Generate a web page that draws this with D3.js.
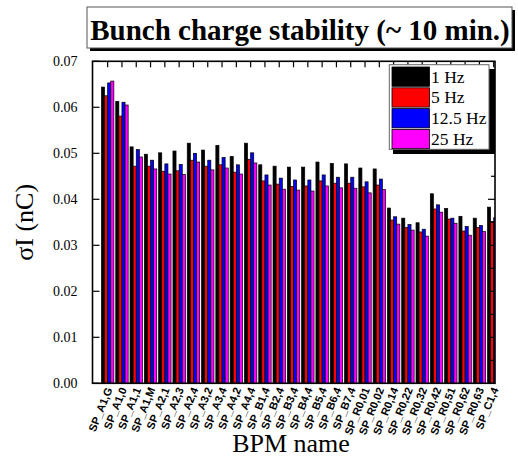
<!DOCTYPE html>
<html><head><meta charset="utf-8">
<script src="https://cdn.jsdelivr.net/npm/d3@7"></script>
<style>body{margin:0;background:#fff}svg{display:block}</style>
</head><body>
<script>
const categories = ["SP_A1,G","SP_A1,0","SP_A1,1","SP_A1,M","SP_A2,1","SP_A2,3","SP_A2,4","SP_A3,2","SP_A3,4","SP_A4,2","SP_A4,4","SP_B1,4","SP_B2,4","SP_B3,4","SP_B4,4","SP_B5,4","SP_B6,4","SP_B7,4","SP_R0,01","SP_R0,02","SP_R0,14","SP_R0,22","SP_R0,32","SP_R0,42","SP_R0,51","SP_R0,62","SP_R0,63","SP_C1,4"];
const seriesNames = ["1 Hz","5 Hz","12.5 Hz","25 Hz"];
const seriesColors = ["#000000","#ff0000","#0000ff","#ff00ff"];
const hz1   = [0.0644,0.0613,0.0514,0.0498,0.0501,0.0505,0.0522,0.0507,0.0517,0.0493,0.0522,0.0475,0.0472,0.0470,0.0470,0.0481,0.0478,0.0477,0.0468,0.0466,0.0381,0.0359,0.0349,0.0412,0.0380,0.0363,0.0359,0.0383];
const hz5   = [0.0625,0.0581,0.0472,0.0472,0.0461,0.0462,0.0485,0.0472,0.0475,0.0459,0.0487,0.0440,0.0433,0.0428,0.0429,0.0440,0.0435,0.0435,0.0427,0.0431,0.0355,0.0339,0.0329,0.0379,0.0357,0.0331,0.0339,0.0352];
const hz12  = [0.0653,0.0611,0.0508,0.0485,0.0477,0.0476,0.0500,0.0485,0.0491,0.0475,0.0501,0.0453,0.0446,0.0442,0.0442,0.0453,0.0448,0.0448,0.0438,0.0444,0.0362,0.0345,0.0335,0.0388,0.0359,0.0341,0.0343,0.0360];
const hz25  = [0.0657,0.0605,0.0492,0.0466,0.0455,0.0454,0.0481,0.0464,0.0468,0.0455,0.0479,0.0431,0.0422,0.0420,0.0418,0.0429,0.0425,0.0424,0.0414,0.0421,0.0346,0.0333,0.0320,0.0372,0.0348,0.0322,0.0330,0.0345];
const yTicks = [0,0.01,0.02,0.03,0.04,0.05,0.06,0.07];
const yTickLabels = ["0.00","0.01","0.02","0.03","0.04","0.05","0.06","0.07"];
const titleText = "Bunch charge stability (~ 10 min.)";
const yTitle = "σI (nC)";
const xTitle = "BPM name";

const series = [hz1, hz5, hz12, hz25];
const W = 518, H = 459;
const L = 92.5, R = 495, T = 61.3, B = 383.3;
const svg = d3.select("body").append("svg").attr("width", W).attr("height", H);
const x = d3.scaleLinear().domain([-1.06, 27.09]).range([L, R]);
const y = d3.scaleLinear().domain([0, 0.07]).range([B, T]);
const barW = 0.217;
const serif = "'Liberation Serif','Times New Roman',serif";

svg.append("defs").append("clipPath").attr("id","plotclip")
  .append("rect").attr("x", L).attr("y", T).attr("width", R - L).attr("height", B - T);

// bottom ticks (inward, behind bars)
const g = svg.append("g");
g.selectAll("line.bt").data(categories).enter().append("line")
  .attr("x1", (d,i)=>x(i)).attr("x2",(d,i)=>x(i)).attr("y1", B).attr("y2", B-5)
  .attr("stroke","#000").attr("stroke-width",1);

// bars
const bars = svg.append("g").attr("clip-path","url(#plotclip)");
series.forEach((vals, s) => {
  bars.selectAll("rect.s"+s).data(vals).enter().append("rect")
    .attr("x", (d,i)=> x(i - 2*barW + s*barW))
    .attr("width", x(barW) - x(0))
    .attr("y", d => y(d))
    .attr("height", d => y(0) - y(d))
    .attr("fill", seriesColors[s])
    .attr("stroke", "#000").attr("stroke-width", 0.7);
});

// frame
svg.append("rect").attr("x", L).attr("y", T).attr("width", R-L).attr("height", B-T)
  .attr("fill","none").attr("stroke","#000").attr("stroke-width",1.6);

// top ticks
svg.selectAll("line.tt").data(categories).enter().append("line")
  .attr("x1", (d,i)=>x(i)).attr("x2",(d,i)=>x(i)).attr("y1", T).attr("y2", T+6)
  .attr("stroke","#000").attr("stroke-width",1.2);

// left axis ticks and labels
svg.selectAll("line.lt").data(yTicks).enter().append("line")
  .attr("x1", L).attr("x2", L+7).attr("y1", d=>y(d)).attr("y2", d=>y(d))
  .attr("stroke","#000").attr("stroke-width",1.2);
svg.selectAll("text.yl").data(yTicks).enter().append("text")
  .attr("x", L-15).attr("y", d=>y(d)+5).attr("text-anchor","end")
  .attr("font-family", serif).attr("font-size", 14).text((d,i)=>yTickLabels[i]);
// right axis ticks (major + minor)
const rightTicks = d3.range(0, 14).map(k => k*0.005);
svg.selectAll("line.rt").data(rightTicks).enter().append("line")
  .attr("x1", R).attr("x2", (d,i)=> i%2===0 ? R-7 : R-4).attr("y1", d=>y(d)).attr("y2", d=>y(d))
  .attr("stroke","#000").attr("stroke-width",1.2);

// x tick labels
svg.selectAll("text.xl").data(categories).enter().append("text")
  .attr("transform", (d,i)=>`translate(${x(i)+5},${B+6}) rotate(-68)`)
  .attr("text-anchor","end")
  .attr("font-family","'Liberation Sans',Arial,sans-serif").attr("font-weight","bold")
  .attr("font-size", 11).text(d=>d);

// axis titles
svg.append("text").attr("x", 291).attr("y", 452).attr("text-anchor","middle")
  .attr("font-family", serif).attr("font-size", 26).text(xTitle);
svg.append("text").attr("transform", `translate(33,${(T+B)/2}) rotate(-90)`).attr("text-anchor","middle")
  .attr("font-family", serif).attr("font-size", 26).text(yTitle);

// legend
const lg = svg.append("g");
lg.append("rect").attr("x", 393).attr("y", 69).attr("width", 102).attr("height", 85).attr("fill","#000");
lg.append("rect").attr("x", 389.3).attr("y", 64.7).attr("width", 99.7).attr("height", 84.6)
  .attr("fill","#fff").attr("stroke","#666").attr("stroke-width",1);
seriesNames.forEach((n, s) => {
  lg.append("rect").attr("x", 392).attr("y", 67 + s*20.8).attr("width", 37.5).attr("height", 19.3)
    .attr("fill", seriesColors[s]).attr("stroke","#000").attr("stroke-width",0.8);
  lg.append("text").attr("x", 431).attr("y", 82.5 + s*20.8)
    .attr("font-family", serif).attr("font-size", 17.5).text(n);
});

// title
svg.append("rect").attr("x", 90).attr("y", 10).attr("width", 425).attr("height", 41).attr("fill","#000");
svg.append("rect").attr("x", 87).attr("y", 7).attr("width", 425).attr("height", 41)
  .attr("fill","#fff").attr("stroke","#555").attr("stroke-width",1);
svg.append("text").attr("x", 300).attr("y", 40).attr("text-anchor","middle")
  .attr("font-family", serif).attr("font-weight","bold").attr("font-size", 29).text(titleText);
</script>
</body></html>
